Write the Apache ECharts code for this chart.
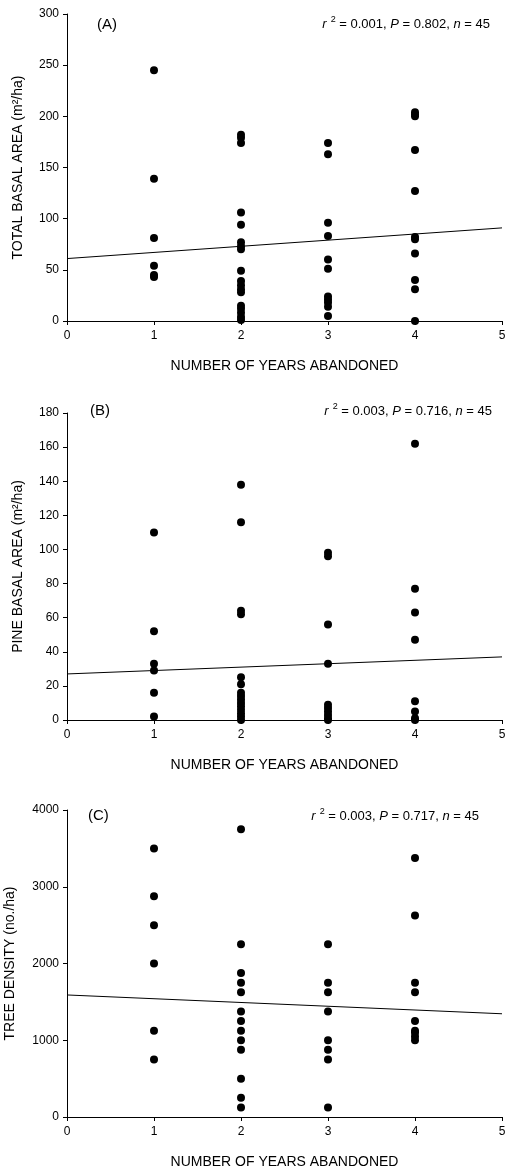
<!DOCTYPE html>
<html lang="en">
<head>
<meta charset="UTF-8">
<title>abandoned-years</title>
<script src="https://cdn.jsdelivr.net/npm/echarts@6/dist/echarts.min.js"></script>
<style>html,body{margin:0;background:#fff}</style>
</head>
<body>
<div id="main" style="width:505px;height:1170px;"></div>
<script>
// values read per abandonment year (1..4)
var years = [1, 2, 3, 4];
var totalBasal = [
    [245, 139, 81, 54, 45, 43],
    [182, 179, 174, 106, 94, 77, 73, 70, 49, 39, 35, 31, 28, 15, 12, 8, 4, 1],
    [174, 163, 96, 83, 60, 51, 24, 21, 18, 14, 5],
    [204, 202, 200, 167, 127, 82, 80, 66, 40, 31, 0]
];
var pineBasal = [
    [110, 52, 33, 29, 16, 2],
    [138, 116, 64, 62, 25, 21, 16, 14, 12, 10, 8, 6, 4, 2, 0],
    [98, 96, 56, 33, 9, 7, 5, 3, 1, 0],
    [162, 77, 63, 47, 11, 5, 1, 0]
];
var treeDensity = [
    [3500, 2875, 2500, 2000, 1125, 750],
    [3750, 2250, 1875, 1750, 1625, 1375, 1250, 1125, 1000, 875, 500, 250, 125],
    [2250, 1750, 1625, 1375, 1000, 875, 750, 125],
    [3375, 2625, 1750, 1625, 1250, 1125, 1100, 1050, 1000]
];
// regression line ends at x = 0 and x = 5
var fitX = [0, 5];
var totalFit = [61, 91];
var pineFit = [27, 37];
var densityFit = [1590, 1345];
// y axis [min, max, interval]
var yRanges = [[0, 300, 50], [0, 180, 20], [0, 4000, 1000]];
var yNames = ['TOTAL BASAL AREA (m²/ha)', 'PINE BASAL AREA (m²/ha)', 'TREE DENSITY (no./ha)'];
var xName = 'NUMBER OF YEARS ABANDONED';
var panelTags = ['(A)', '(B)', '(C)'];
var stats = [['0.001', '0.802', '45'], ['0.003', '0.716', '45'], ['0.003', '0.717', '45']];

var FONT = '"Liberation Sans", Arial, Helvetica, sans-serif';
var panels = [totalBasal, pineBasal, treeDensity];
var fits = [totalFit, pineFit, densityFit];
var gridTops = [14, 413, 810];
var yNameGaps = [42, 42, 50];
var tagPos = [[97, 25], [90, 411], [88, 816]];
var statPos = [[490, 24], [492, 411], [479, 816]];

function points(groups) {
    var out = [];
    groups.forEach(function (vals, i) {
        vals.forEach(function (v) { out.push([years[i], v]); });
    });
    return out;
}

var chart = echarts.init(document.getElementById('main'));
var grid = [], xAxis = [], yAxis = [], series = [], graphic = [];

for (var i = 0; i < 3; i++) {
    grid.push({left: 67, right: 3, top: gridTops[i], height: 307, containLabel: false, outerBoundsMode: 'none'});
    xAxis.push({
        type: 'value', gridIndex: i, min: 0, max: 5, interval: 1,
        name: xName, nameLocation: 'middle', nameGap: 38,
        nameTextStyle: {color: '#000', fontSize: 14, fontFamily: FONT},
        axisLine: {lineStyle: {color: '#000', width: 1}},
        axisTick: {length: 4, lineStyle: {color: '#000'}},
        axisLabel: {color: '#000', fontSize: 12, fontFamily: FONT, margin: 9},
        splitLine: {show: false}
    });
    yAxis.push({
        type: 'value', gridIndex: i, min: yRanges[i][0], max: yRanges[i][1], interval: yRanges[i][2],
        name: yNames[i], nameLocation: 'middle', nameGap: yNameGaps[i],
        nameTextStyle: {color: '#000', fontSize: 14, fontFamily: FONT},
        axisLine: {show: true, lineStyle: {color: '#000', width: 1}},
        axisTick: {show: true, length: 4, lineStyle: {color: '#000'}},
        axisLabel: {color: '#000', fontSize: 12, fontFamily: FONT, margin: 8,
            formatter: function (v) { return String(v); }},
        splitLine: {show: false}
    });
    series.push({
        type: 'scatter', xAxisIndex: i, yAxisIndex: i,
        symbolSize: 8, itemStyle: {color: '#000', opacity: 1},
        data: points(panels[i])
    });
    series.push({
        type: 'line', xAxisIndex: i, yAxisIndex: i,
        symbol: 'none', silent: true,
        lineStyle: {color: '#000', width: 1},
        data: [[fitX[0], fits[i][0]], [fitX[1], fits[i][1]]]
    });
    graphic.push({
        type: 'text', x: tagPos[i][0], y: tagPos[i][1],
        style: {text: panelTags[i], fill: '#000', font: '15px ' + FONT, align: 'left', verticalAlign: 'middle'}
    });
    graphic.push({
        type: 'text', x: statPos[i][0], y: statPos[i][1],
        style: {
            text: '{i|r}{s|2}{t| = ' + stats[i][0] + ', }{i|P}{t| = ' + stats[i][1] + ', }{i|n}{t| = ' + stats[i][2] + '}',
            align: 'right', verticalAlign: 'middle', fill: '#000',
            font: '13px ' + FONT,
            rich: {
                i: {fontSize: 13, fontStyle: 'italic', fontFamily: FONT, fill: '#000'},
                t: {fontSize: 13, fontFamily: FONT, fill: '#000'},
                s: {fontSize: 9, fontFamily: FONT, fill: '#000', padding: [0, 0, 8, 4]}
            }
        }
    });
}

chart.setOption({
    backgroundColor: '#fff',
    animation: false,
    grid: grid,
    xAxis: xAxis,
    yAxis: yAxis,
    series: series,
    graphic: graphic
});
</script>
</body>
</html>
